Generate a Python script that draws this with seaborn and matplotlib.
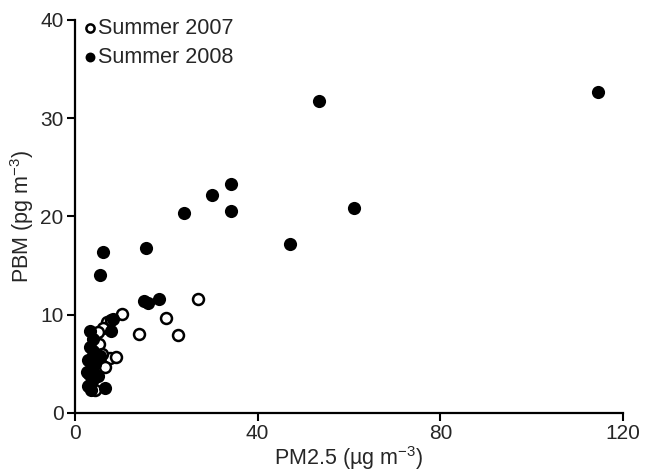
import matplotlib
matplotlib.use("Agg")
import matplotlib.pyplot as plt
import pandas as pd
import seaborn as sns

# Summer 2007 (open circles)
pm25_2007 = [10.4, 14.0, 19.9, 22.5, 26.9, 7.1, 6.2, 7.7, 6.6, 5.5, 5.0, 4.0, 4.5, 5.2, 3.5, 6.0, 8.0, 9.0]
pbm_2007 = [10.1, 8.0, 9.7, 7.9, 11.6, 9.3, 8.6, 5.6, 4.7, 6.0, 8.2, 3.5, 2.3, 7.0, 4.5, 6.0, 9.5, 5.7]

# Summer 2008 (filled circles)
pm25_2008 = [114.5, 53.5, 61.0, 47.0, 34.2, 30.1, 34.2, 23.8, 15.6, 6.2, 5.6, 15.1, 16.0, 18.4,
             3.4, 3.3, 2.9, 2.6, 2.9, 6.6, 8.4, 8.0, 4.0, 4.5, 3.5, 5.0, 4.0, 3.0, 5.5, 3.5]
pbm_2008 = [32.7, 31.7, 20.9, 17.2, 23.3, 22.2, 20.6, 20.3, 16.8, 16.4, 14.0, 11.4, 11.2, 11.6,
            8.3, 6.7, 5.4, 4.2, 2.7, 2.5, 9.6, 8.3, 7.5, 5.0, 3.0, 3.8, 6.3, 4.0, 5.8, 2.3]

df07 = pd.DataFrame({"pm25": pm25_2007, "pbm": pbm_2007})
df08 = pd.DataFrame({"pm25": pm25_2008, "pbm": pbm_2008})

sns.set_style("ticks")
plt.rcParams["font.family"] = ["Liberation Sans", "DejaVu Sans"]
plt.rcParams["mathtext.default"] = "regular"

fig = plt.figure(figsize=(6.45, 4.73), dpi=100)
ax = fig.add_axes([0.116, 0.127, 0.85, 0.831])

sns.scatterplot(data=df07, x="pm25", y="pbm", ax=ax, s=62, facecolor="white",
                edgecolor="black", linewidth=1.8, label="Summer 2007", zorder=3)
sns.scatterplot(data=df08, x="pm25", y="pbm", ax=ax, s=90, color="black",
                edgecolor="black", linewidth=0, label="Summer 2008", zorder=3)

ax.set_xlim(0, 120)
ax.set_ylim(0, 40)
ax.set_xticks([0, 40, 80, 120])
ax.set_yticks([0, 10, 20, 30, 40])
ax.set_xlabel("PM2.5 (\u00b5g m$^{-3}$)", fontsize=15.5, labelpad=1)
ax.set_ylabel("PBM (pg m$^{-3}$)", fontsize=15.5, labelpad=3)
ax.tick_params(labelsize=15, width=1.5, length=6, color="black", pad=2)
for side in ["left", "bottom"]:
    ax.spines[side].set_linewidth(1.6)
    ax.spines[side].set_color("black")
sns.despine(ax=ax)

ax.legend(loc="upper left", bbox_to_anchor=(0.129, 0.963), bbox_transform=fig.transFigure,
          frameon=False, fontsize=15.5, handlelength=0.6, handletextpad=0.1,
          borderpad=0, borderaxespad=0, labelspacing=0.38, markerscale=0.75)

fig.savefig("out.png", dpi=100)
